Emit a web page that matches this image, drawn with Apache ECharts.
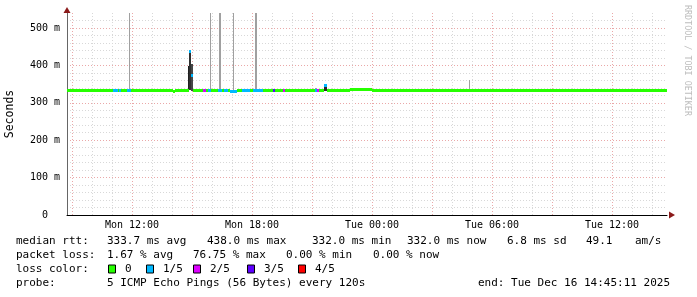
<!DOCTYPE html>
<html>
<head>
<meta charset="utf-8">
<script src="https://cdn.jsdelivr.net/npm/echarts@6/dist/echarts.min.js"></script>
<style>
html,body{margin:0;padding:0;background:#fff;}
#chart{width:697px;height:297px;}
</style>
</head>
<body>
<div id="chart"></div>
<script>
// hours counted from Mon 00:00
var tStart = 8.75, tEnd = 38.75;
var gridHours = [9,10,11,12,13,14,15,16,17,18,19,20,21,22,23,24,25,26,27,28,29,30,31,32,33,34,35,36,37,38];
var labelHours = [12, 18, 24, 30, 36];
var labelText = ['Mon 12:00', 'Mon 18:00', 'Tue 00:00', 'Tue 06:00', 'Tue 12:00'];

var yGrid = [0,20,40,60,80,100,120,140,160,180,200,220,240,260,280,300,320,340,360,380,400,420,440,460,480,500,520];
var yLabelVals = [0, 100, 200, 300, 400, 500];
var yLabelText = ['0  ', '100 m', '200 m', '300 m', '400 m', '500 m'];

// median rtt (ms) pieces, loss = lost pings out of 5
var medStart = [8.75, 11.05, 11.3, 11.35, 11.45, 11.75, 11.95, 14.05, 14.15, 14.85, 14.95, 15.05, 15.55, 15.7, 15.8, 15.95, 16.3, 16.5, 16.6, 16.8, 16.9, 17.25, 17.5, 17.9, 18.05, 18.55, 19.05, 19.15, 19.55, 19.65, 21.15, 21.25, 21.35, 21.6, 21.75, 22.9, 24.0];
var medEnd   = [11.05, 11.3, 11.35, 11.45, 11.75, 11.95, 14.05, 14.15, 14.85, 14.95, 15.05, 15.55, 15.7, 15.8, 15.95, 16.3, 16.5, 16.6, 16.8, 16.9, 17.25, 17.5, 17.9, 18.05, 18.55, 19.05, 19.15, 19.55, 19.65, 21.15, 21.25, 21.35, 21.6, 21.75, 22.9, 24.0, 38.75];
var medValue = [333.5, 333.5, 333.5, 333.5, 333.5, 333.5, 333.5, 331, 333.5, 438, 375, 333.5, 333, 333.5, 333.5, 333.5, 333.5, 333.5, 333.5, 333.5, 332.5, 333.5, 333.5, 333.5, 333.5, 333.5, 333.5, 333.5, 333.5, 333, 333, 333, 333, 347, 333, 336, 333];
var medLoss  = [0, 1, 0, 1, 0, 1, 0, 0, 0, 1, 1, 0, 2, 0, 1, 0, 1, 0, 1, 0, 1, 0, 1, 0, 1, 0, 3, 0, 2, 0, 1, 2, 0, 1, 0, 0, 0];

// smoke: spread of the single pings
var smokeStart   = [11.85, 14.8, 14.85, 14.95, 15.9, 16.35, 17.05, 18.15, 21.15, 21.6, 28.65, 28.85];
var smokeEnd     = [11.9, 14.85, 14.95, 15.05, 15.95, 16.45, 17.1, 18.25, 21.25, 21.75, 28.85, 28.9];
var smokeLow     = [333, 333, 333, 333, 333, 333, 333, 333, 333, 333, 333, 333];
var smokeHigh    = [540, 398, 440, 404, 540, 540, 540, 540, 340, 348, 338, 362];
var smokeDensity = [0.1, 0.95, 0.85, 0.7, 0.1, 0.1, 0.1, 0.1, 0.1, 0.9, 0.1, 0.1];

var lossColors = ['#26ff00', '#00b8ff', '#dd00ff', '#5e00ff', '#ff0000'];
var lossNames = ['0', '1/5', '2/5', '3/5', '4/5'];

var statRows = [
	[[16, 'median rtt:'], [107, '333.7 ms avg'], [207, '438.0 ms max'], [312, '332.0 ms min'], [407, '332.0 ms now'], [507, '6.8 ms sd'], [586, '49.1'], [635, 'am/s']],
	[[16, 'packet loss:'], [107, '1.67 % avg'], [193, '76.75 % max'], [286, '0.00 % min'], [373, '0.00 % now']],
	[[16, 'loss color:']],
	[[16, 'probe:'], [107, '5 ICMP Echo Pings (56 Bytes) every 120s'], [478, 'end: Tue Dec 16 14:45:11 2025']]
];
var rowY = [241, 255.5, 269.5, 283.5];
var boxX = [108, 146, 193, 247, 298];

var mono = '"DejaVu Sans Mono", monospace';

var medData = [];
for (var i = 0; i < medStart.length; i++) {
	medData.push([medStart[i], medEnd[i], medValue[i], medLoss[i]]);
}
var smokeData = [];
for (var i = 0; i < smokeStart.length; i++) {
	smokeData.push([smokeStart[i], smokeEnd[i], smokeLow[i], smokeHigh[i], smokeDensity[i]]);
}

// legend / stats texts
var graphics = [];
for (var r = 0; r < statRows.length; r++) {
	for (var k = 0; k < statRows[r].length; k++) {
		graphics.push({type: 'text', x: statRows[r][k][0], y: rowY[r], silent: true,
			style: {text: statRows[r][k][1], font: '11px ' + mono, fill: '#000', verticalAlign: 'middle'}});
	}
}
for (var j = 0; j < lossColors.length; j++) {
	graphics.push({type: 'rect', shape: {x: boxX[j] + 0.5, y: rowY[2] - 4.5, width: 7, height: 8}, silent: true,
		style: {fill: lossColors[j], stroke: '#000', lineWidth: 1}});
	graphics.push({type: 'text', x: boxX[j] + 17, y: rowY[2], silent: true,
		style: {text: lossNames[j], font: '11px ' + mono, fill: '#000', verticalAlign: 'middle'}});
}
graphics.push({type: 'text', x: 10, y: 114, rotation: Math.PI / 2, silent: true,
	style: {text: 'Seconds', font: '11.5px ' + mono, fill: '#000', align: 'center', verticalAlign: 'middle'}});
graphics.push({type: 'text', x: 687, y: 5, rotation: -Math.PI / 2, silent: true,
	style: {text: 'RRDTOOL / TOBI OETIKER', font: '8.4px ' + mono, fill: '#bdbdbd', align: 'left', verticalAlign: 'middle'}});

var myChart = echarts.init(document.getElementById('chart'), null, {renderer: 'canvas'});

var option = {
	animation: false,
	backgroundColor: '#fff',
	grid: {left: 67, right: 30, top: 13, bottom: 82},
	xAxis: [{
		type: 'value', min: tStart, max: tEnd,
		axisLine: {lineStyle: {color: '#000', width: 1}},
		axisTick: {show: false, customValues: gridHours},
		axisLabel: {customValues: labelHours, margin: 5, color: '#000', fontFamily: mono, fontSize: 10,
			formatter: function(v){ return labelText[labelHours.indexOf(v)]; }},
		splitLine: {show: true, lineStyle: {color: ['#eaa8a8', '#d8d8d8', '#d8d8d8'], type: [1, 2], width: 1}}
	}, {
		// only the arrow
		type: 'value', min: tStart, max: tEnd, position: 'bottom',
		axisLine: {show: true, symbol: ['none', 'triangle'], symbolSize: [7, 6], symbolOffset: [0, 5], lineStyle: {color: '#8b1a1a', width: 0}},
		axisTick: {show: false}, axisLabel: {show: false}, splitLine: {show: false}
	}],
	yAxis: [{
		type: 'value', min: 0, max: 540,
		axisLine: {show: true, lineStyle: {color: '#666', width: 1}},
		axisTick: {show: false, customValues: yGrid},
		axisLabel: {customValues: yLabelVals, margin: 7, color: '#000', fontFamily: mono, fontSize: 10,
			formatter: function(v){ return yLabelText[yLabelVals.indexOf(v)]; }},
		splitLine: {show: true, lineStyle: {color: ['#eaa8a8', '#d8d8d8', '#d8d8d8', '#d8d8d8', '#d8d8d8'], type: [1, 2], width: 1}}
	}, {
		type: 'value', min: 0, max: 540, position: 'left',
		axisLine: {show: true, symbol: ['none', 'triangle'], symbolSize: [7, 6], symbolOffset: [0, 3], lineStyle: {color: '#8b1a1a', width: 0}},
		axisTick: {show: false}, axisLabel: {show: false}, splitLine: {show: false}
	}],
	series: [{
		type: 'custom',
		name: 'smoke',
		data: smokeData,
		encode: {x: [0, 1], y: [2, 3]},
		renderItem: function(params, api){
			var a = api.coord([api.value(0), api.value(3)]);
			var b = api.coord([api.value(1), api.value(2)]);
			var x0 = Math.round(a[0]), x1 = Math.round(b[0]);
			var g = Math.round(175 - api.value(4) * 150);
			return {type: 'rect', shape: {x: x0, y: Math.round(a[1]), width: Math.max(1, x1 - x0), height: Math.round(b[1] - a[1])},
				style: {fill: 'rgb(' + g + ',' + g + ',' + g + ')'}};
		},
		z: 2
	}, {
		type: 'custom',
		name: 'median rtt',
		data: medData,
		encode: {x: [0, 1], y: 2},
		renderItem: function(params, api){
			var a = api.coord([api.value(0), api.value(2)]);
			var b = api.coord([api.value(1), api.value(2)]);
			var x0 = Math.round(a[0]), x1 = Math.round(b[0]);
			var y = Math.round(a[1]);
			return {type: 'rect', shape: {x: x0, y: y - 1, width: Math.max(1, x1 - x0), height: 3},
				style: {fill: lossColors[api.value(3)]}};
		},
		z: 3
	}],
	graphic: graphics
};

myChart.setOption(option);
</script>
</body>
</html>
